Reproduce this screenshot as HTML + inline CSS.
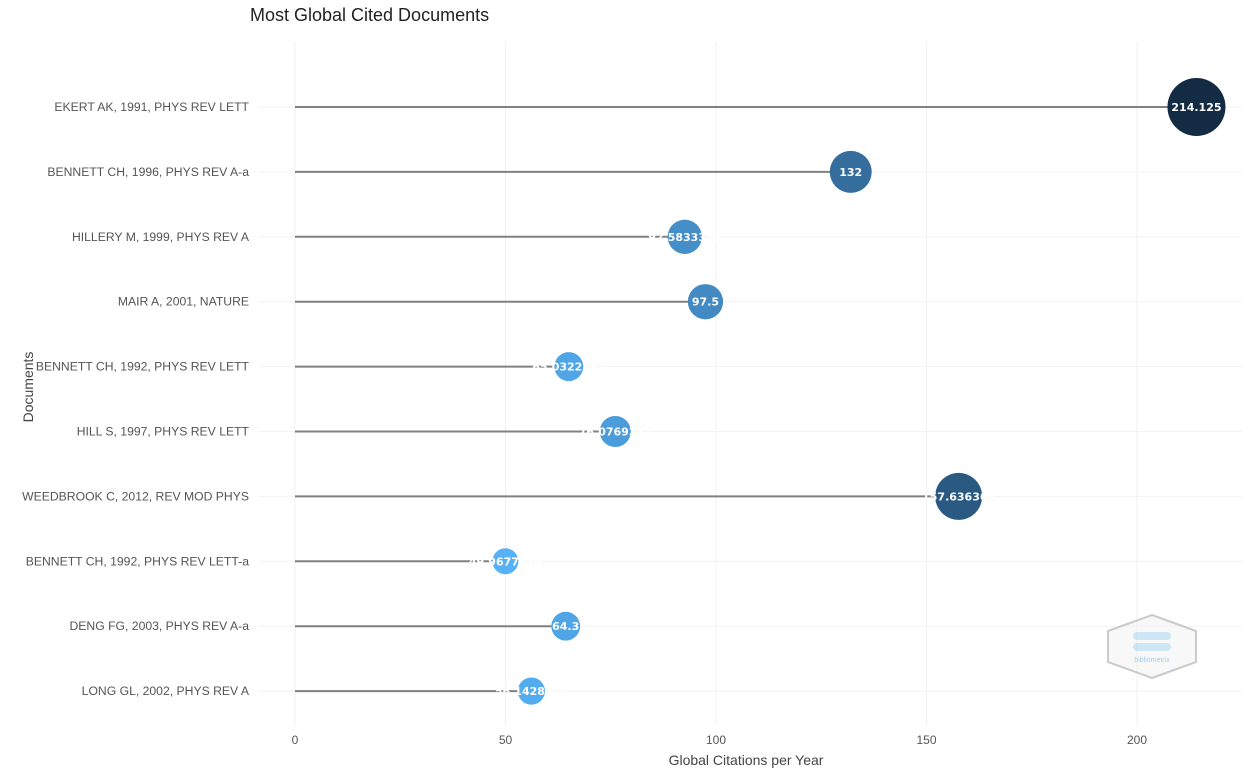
<!DOCTYPE html>
<html><head><meta charset="utf-8"><style>
body{margin:0;background:#fff;font-family:"Liberation Sans",Arial,sans-serif}
</style></head><body>
<svg id="chart" width="1249" height="768" xmlns="http://www.w3.org/2000/svg">
<text x="250" y="21" font-size="18" fill="#222">Most Global Cited Documents</text>
<g id="grid"></g><g id="marks"></g><g id="labels"></g>
<text x="746" y="765" text-anchor="middle" font-size="14" fill="#444">Global Citations per Year</text>
<text transform="translate(33,387) rotate(-90)" text-anchor="middle" font-size="14" fill="#444">Documents</text>
<g opacity="0.5">
<polygon points="1108,631 1152,615 1196,631 1196,662 1152,678 1108,662" fill="#f2f2f2" stroke="#999" stroke-width="2"/>
<rect x="1133" y="632" width="38" height="8" rx="4" fill="#9cd0ee"/>
<rect x="1133" y="643" width="38" height="8" rx="4" fill="#9cd0ee"/>
<text x="1152" y="662" text-anchor="middle" font-size="7" fill="#4a9fd8">bibliometrix</text>
</g>
</svg>
<script>
const docs=["EKERT AK, 1991, PHYS REV LETT","BENNETT CH, 1996, PHYS REV A-a","HILLERY M, 1999, PHYS REV A","MAIR A, 2001, NATURE","BENNETT CH, 1992, PHYS REV LETT","HILL S, 1997, PHYS REV LETT","WEEDBROOK C, 2012, REV MOD PHYS","BENNETT CH, 1992, PHYS REV LETT-a","DENG FG, 2003, PHYS REV A-a","LONG GL, 2002, PHYS REV A"];
const values=[214.125,132,92.5833333,97.5,65.0322581,76.0769231,157.636364,49.9677419,64.3,56.1428571];
const xTicks=[0,50,100,150,200];
const NS="http://www.w3.org/2000/svg";
const x=v=>295+v*4.21, y=i=>107+i*64.9;
const vmin=Math.min(...values), vmax=Math.max(...values);
function col(v){const t=(v-vmin)/(vmax-vmin);const a=[86,177,247],b=[19,43,67];return `rgb(${a.map((c,k)=>Math.round(c+(b[k]-c)*t)).join(',')})`;}
function mk(tag,at,parent,txt){const e=document.createElementNS(NS,tag);for(const k in at)e.setAttribute(k,at[k]);if(txt!==undefined)e.textContent=txt;document.getElementById(parent).appendChild(e);return e;}
xTicks.forEach(t=>{
 const l=mk('line',{x1:x(t),x2:x(t),y1:42,y2:725,stroke:'#f0f0f0'},'grid');
 
 
 const tx=mk('text',{x:x(t),y:744,'text-anchor':'middle','font-size':12,fill:'#555'},'grid',t);
 
 
});
docs.forEach((d,i)=>{
 const g=mk('line',{x1:259,x2:1243,y1:y(i),y2:y(i),stroke:'#f2f2f2'},'grid');
 
 
 const lb=mk('text',{x:249,y:y(i)+4,'text-anchor':'end','font-size':12.2,fill:'#555'},'grid',d);
 
 
 const v=values[i];
 const st=mk('line',{x1:x(0),x2:x(v),y1:y(i),y2:y(i),stroke:'#808080','stroke-width':2},'marks');
 
 
 const r=13+(v-vmin)/(vmax-vmin)*16;
 const c=mk('circle',{cx:x(v),cy:y(i),r:r,fill:col(v)},'marks');
 
 
 const vt=mk('text',{x:x(v),y:y(i)+4,'text-anchor':'middle','font-size':11,'font-weight':'bold',fill:'#fff','font-family':'DejaVu Sans, sans-serif'},'labels',String(v));
 
 
});
</script>
</body></html>
